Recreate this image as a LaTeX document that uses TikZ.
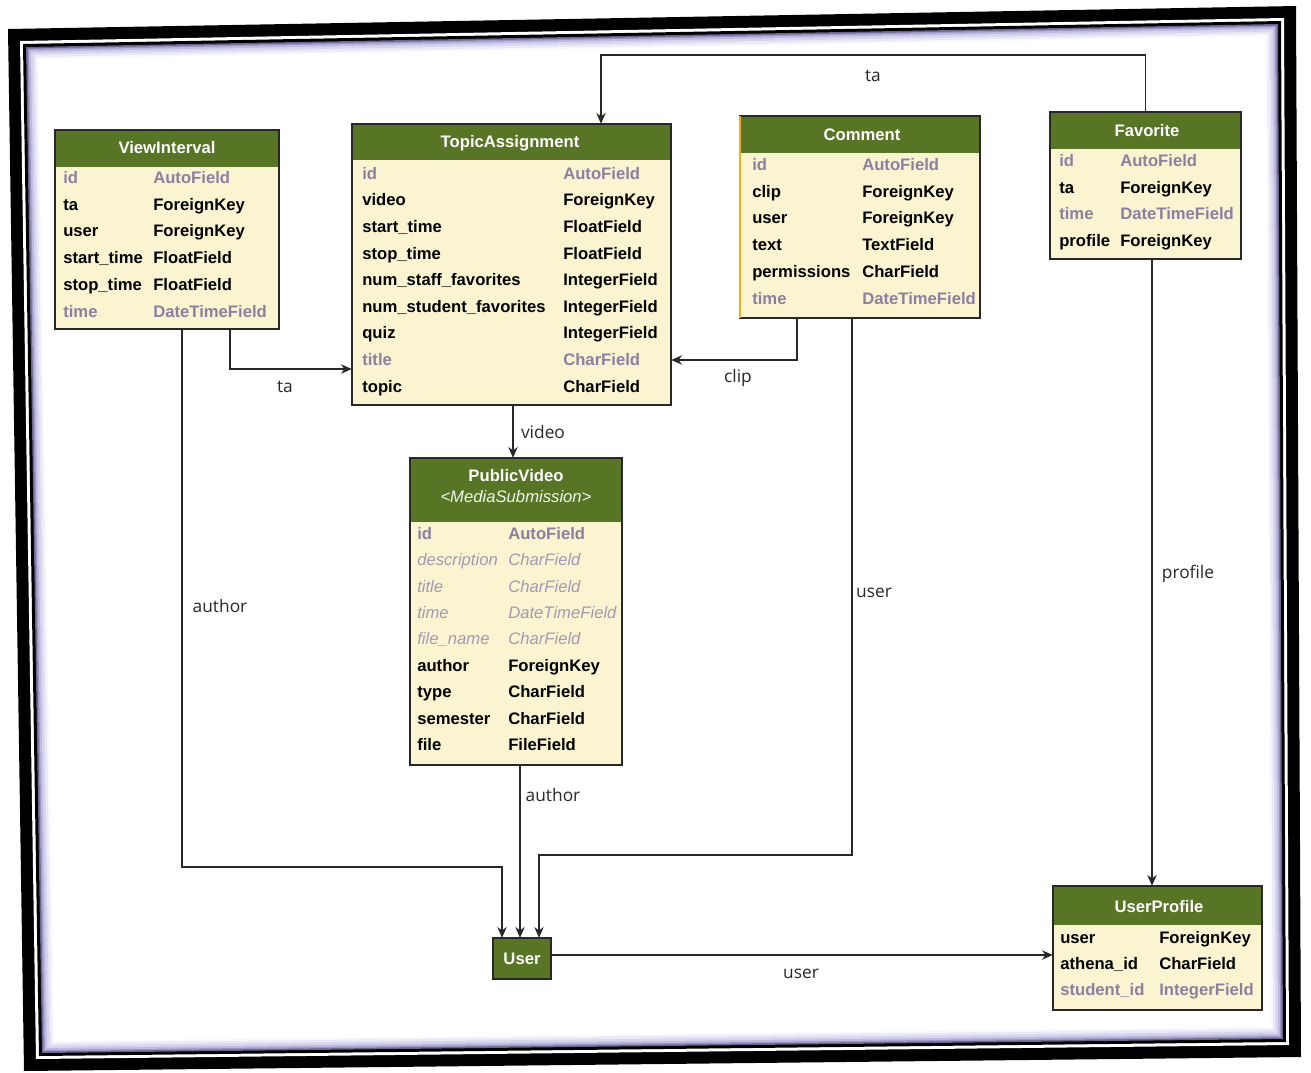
\documentclass[tikz,border=0pt]{standalone}
\usepackage{fontspec}
\newfontfamily\tabfont{Liberation Sans}
\newfontfamily\lblfont{Open Sans}
\usetikzlibrary{arrows.meta,calc,fit}
\definecolor{hdrgreen}{RGB}{88,117,38}
\definecolor{bodycream}{RGB}{250,245,208}
\definecolor{graytxt}{RGB}{140,128,160}
\definecolor{linecol}{RGB}{40,40,40}
\definecolor{selorange}{RGB}{240,176,20}
\definecolor{sha}{RGB}{105,100,140}
\definecolor{shb}{RGB}{155,150,195}
\definecolor{shc}{RGB}{190,187,222}
\definecolor{shd}{RGB}{215,213,238}
\definecolor{she}{RGB}{233,232,247}
\definecolor{shf}{RGB}{247,247,253}

\tikzset{
  tbody/.style={draw=none, fill=bodycream, inner sep=0pt},
  thead/.style={draw=none, fill=hdrgreen, inner sep=0pt},
  tborder/.style={draw=linecol, line width=1.2pt},
  ttitle/.style={font=\tabfont\fontsize{12.5}{14}\selectfont\bfseries, text=white, inner sep=0pt},
  tsub/.style={font=\tabfont\fontsize{12.5}{14}\selectfont\itshape, text=white!92!hdrgreen, inner sep=0pt},
  fldb/.style={font=\tabfont\fontsize{12.5}{14}\selectfont\bfseries, text=black, inner sep=0pt, anchor=west, text height=9pt, text depth=2.5pt},
  fldg/.style={fldb, text=graytxt},
  fldi/.style={font=\tabfont\fontsize{12.5}{14}\selectfont\itshape, text=graytxt!80, inner sep=0pt, anchor=west, text height=9pt, text depth=2.5pt},
  conn/.style={draw=linecol, line width=1.1pt, -{Stealth[length=8pt,width=7pt,inset=2.5pt]}},
  lbl/.style={font=\lblfont\fontsize{13}{15}\selectfont, text=linecol, inner sep=0pt},
}

\newcommand\mktable[6]{%
  \coordinate (#1-a) at (#2,#3);
  \coordinate (#1-b) at (#4,#5);
  \coordinate (#1-c) at (#4,#6);
  \node[tbody, fit=(#1-a)(#1-b)] (#1) {};
  \node[thead, fit=(#1-a)(#1-c)] (#1-h) {};
  \draw[tborder] (#1.north west) rectangle (#1.south east);
}
\newcommand\mkrows[6]{%
  \foreach \n/\t/\s [count=\i] in {#6} {
    \node[\s] (#1-n\i) at (#2,{#4+#5*(\i-1)}) {\n};
    \node[\s] (#1-t\i) at (#3,{#4+#5*(\i-1)}) {\t};
  }%
}

\begin{document}
\begin{tikzpicture}[x=0.75pt,y=-0.75pt]
\useasboundingbox (0,0) rectangle (1311,1072);
\fill[white] (0,0) rectangle (1311,1072);

% scanned frame
\coordinate (O1) at (8,29);
\coordinate (O2) at (1296,6);
\coordinate (O3) at (1301,1057);
\coordinate (O4) at (24,1071);
\foreach \d/\c in {0/black,12/white,15/black,18/sha,19.5/shb,21/shc,23/shd,25.5/she,28/shf,30/white}{
  \fill[\c] ($(O1)+(\d,\d)$) -- ($(O2)+(-\d,\d)$) -- ($(O3)+(-\d,-\d)$) -- ($(O4)+(\d,-\d)$) -- cycle;
}

% ViewInterval
\mktable{VI}{55}{130}{279}{329}{167}
\node[ttitle] (VI-title) at (167,148) {ViewInterval};
\mkrows{VI}{63}{153}{179}{26.8}{id/AutoField/fldg, ta/ForeignKey/fldb, user/ForeignKey/fldb, start\_time/FloatField/fldb, stop\_time/FloatField/fldb, time/DateTimeField/fldg}

% TopicAssignment
\mktable{TA}{352}{124}{671}{405}{160}
\node[ttitle] (TA-title) at (510,143) {TopicAssignment};
\mkrows{TA}{362}{563}{175}{26.6}{id/AutoField/fldg, video/ForeignKey/fldb, start\_time/FloatField/fldb, stop\_time/FloatField/fldb, num\_staff\_favorites/IntegerField/fldb, num\_student\_favorites/IntegerField/fldb, quiz/IntegerField/fldb, title/CharField/fldg, topic/CharField/fldb}

% Comment
\mktable{CM}{740}{116}{980}{318}{153}
\draw[selorange, line width=1.6pt] (CM.north west) -- (CM.south west);
\node[ttitle] (CM-title) at (862,135) {Comment};
\mkrows{CM}{752}{862}{166}{26.8}{id/AutoField/fldg, clip/ForeignKey/fldb, user/ForeignKey/fldb, text/TextField/fldb, permissions/CharField/fldb, time/DateTimeField/fldg}

% Favorite
\mktable{FAV}{1050}{112}{1241}{259}{149}
\node[ttitle] (FAV-title) at (1147,131) {Favorite};
\mkrows{FAV}{1059}{1120}{162}{26.7}{id/AutoField/fldg, ta/ForeignKey/fldb, time/DateTimeField/fldg, profile/ForeignKey/fldb}

% PublicVideo
\mktable{PV}{410}{458}{622}{765}{522}
\node[ttitle] (PV-title) at (516,476) {PublicVideo};
\node[tsub] (PV-sub) at (516,497) {<MediaSubmission>};
\mkrows{PV}{417}{508}{535}{26.4}{id/AutoField/fldg, description/CharField/fldi, title/CharField/fldi, time/DateTimeField/fldi, file\_name/CharField/fldi, author/ForeignKey/fldb, type/CharField/fldb, semester/CharField/fldb, file/FileField/fldb}

% UserProfile
\mktable{UP}{1053}{886}{1262}{1010}{925}
\node[ttitle] (UP-title) at (1159,907) {UserProfile};
\mkrows{UP}{1060}{1159}{939}{26}{user/ForeignKey/fldb, athena\_id/CharField/fldb, student\_id/IntegerField/fldg}

% User
\coordinate (U-a) at (493,938);
\coordinate (U-b) at (551,979);
\node[thead, fit=(U-a)(U-b)] (U) {};
\draw[tborder] (U.north west) rectangle (U.south east);
\node[ttitle] (U-title) at (U.center) {User};

% connectors
\coordinate (k1) at (601,55);
\draw[conn] (FAV.north) |- (k1) -- (k1 |- TA.north);
\coordinate (k2) at (230,369);
\draw[conn] (k2 |- VI.south) -- (k2) -- (k2 -| TA.west);
\coordinate (k3) at (797,360);
\draw[conn] (k3 |- CM.south) -- (k3) -- (k3 -| TA.east);
\coordinate (k4) at (513,430);
\draw[conn] (k4 |- TA.south) -- (k4 |- PV.north);
\coordinate (k5) at (182,867);
\coordinate (k5b) at (502,867);
\draw[conn] (k5 |- VI.south) -- (k5) -- (k5b) -- (k5b |- U.north);
\coordinate (k6) at (520,850);
\draw[conn] (k6 |- PV.south) -- (k6 |- U.north);
\coordinate (k7) at (852,855);
\coordinate (k7b) at (539,855);
\draw[conn] (k7 |- CM.south) -- (k7) -- (k7b) -- (k7b |- U.north);
\coordinate (k8) at (1152,600);
\draw[conn] (k8 |- FAV.south) -- (k8 |- UP.north);
\coordinate (k9) at (800,955);
\draw[conn] (k9 -| U.east) -- (k9 -| UP.west);

% labels
\node[lbl] (l-ta1) at (873,76) {ta};
\node[lbl] (l-ta2) at (285,387) {ta};
\node[lbl] (l-clip) at (738,378) {clip};
\node[lbl] (l-video) at (543,432) {video};
\node[lbl] (l-author1) at (220,606) {author};
\node[lbl] (l-author2) at (553,795) {author};
\node[lbl] (l-user1) at (874,593) {user};
\node[lbl] (l-profile) at (1188,574) {profile};
\node[lbl] (l-user2) at (801,974) {user};
\end{tikzpicture}
\end{document}
